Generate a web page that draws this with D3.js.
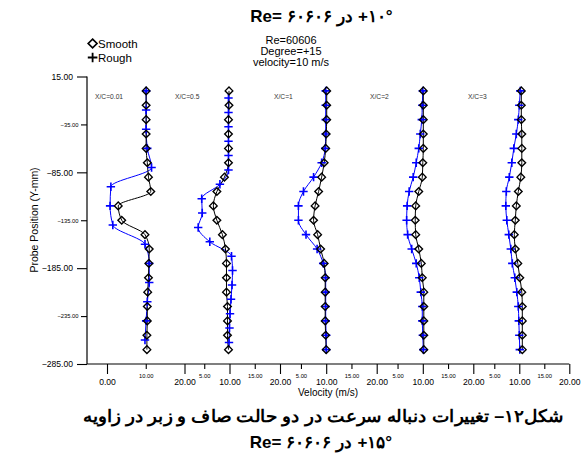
<!DOCTYPE html>
<html>
<head>
<meta charset="utf-8">
<script src="https://cdn.jsdelivr.net/npm/d3@7"></script>
<style>
  body { margin: 0; background: #fff; }
  svg { display: block; }
  text { font-family: "Liberation Sans", Arial, sans-serif; }
</style>
</head>
<body>
<svg id="chart" width="585" height="471"></svg>
<script>
// ---- data -------------------------------------------------------------
const stations = ["X/C=0.01", "X/C=0.5", "X/C=1", "X/C=2", "X/C=3"];

// probe positions (mm)
const smoothPos = [0, -15, -30, -45, -60, -75, -90, -105, -120, -135, -150, -165, -180, -195, -210, -225, -240, -255, -270];
const roughPosA = [0, -20, -40, -60, -80, -100, -120, -140, -160, -180, -200, -220, -240, -260];
const roughPosB = [-7.5, -22.5, -37.5, -52.5, -67.5, -82.5, -97.5, -112.5, -127.5, -142.5, -157.5, -172.5, -187.5, -202.5, -217.5, -232.5, -247.5, -262.5];

// velocity (m/s), smooth model
const smooth001 = [10.1, 10.1, 10.1, 10.1, 10.1, 10.4, 10.7, 11.3, 2.9, 3.8, 9.8, 10.9, 10.8, 10.7, 10.5, 10.4, 10.4, 10.3, 10.3];
const smooth05  = [9.9, 9.9, 9.8, 9.8, 9.8, 9.8, 9.0, 7.5, 6.8, 7.5, 8.6, 9.2, 9.4, 9.4, 9.4, 9.6, 9.6, 9.6, 9.8];
const smooth1   = [10.1, 10.1, 10.1, 10.0, 9.9, 9.6, 9.1, 8.5, 7.8, 7.5, 8.3, 8.9, 9.6, 9.8, 9.8, 9.8, 9.8, 9.9, 10.0];
const smooth2   = [10.1, 10.1, 10.1, 10.1, 10.1, 10.0, 9.9, 9.2, 8.6, 8.5, 8.6, 9.2, 9.7, 9.9, 10.2, 10.2, 10.2, 10.2, 10.2];
const smooth3   = [10.4, 10.4, 10.4, 10.5, 10.5, 10.5, 10.3, 9.8, 9.4, 9.2, 9.0, 9.2, 9.7, 10.1, 10.5, 10.6, 10.6, 10.6, 10.6];

// velocity (m/s), rough model
const rough001 = [10.1, 10.1, 10.1, 10.4, 11.5, 1.0, 0.8, 1.5, 9.8, 10.9, 10.9, 10.4, 10.1, 9.8];
const rough05  = [9.8, 9.8, 9.8, 9.8, 9.8, 9.8, 8.1, 4.5, 4.6, 3.8, 6.1, 10.4, 10.6, 10.5, 10.3, 10.1, 10.0, 9.9];
const rough1   = [9.9, 9.9, 9.9, 9.9, 9.8, 9.1, 7.5, 5.5, 4.5, 4.5, 6.0, 8.2, 9.4, 9.9, 9.9, 9.9, 9.9, 10.0, 10.0];
const rough2   = [10.0, 9.9, 9.8, 9.5, 9.2, 8.7, 8.1, 7.3, 6.9, 6.8, 7.0, 7.8, 8.7, 9.3, 9.6, 9.9, 9.9, 10.0, 10.1];
const rough3   = [10.2, 10.0, 9.8, 9.4, 8.9, 8.5, 8.0, 7.4, 7.3, 7.5, 7.9, 8.3, 8.6, 9.1, 9.5, 9.8, 9.9, 10.0, 10.1];

const smoothSeries = [smooth001, smooth05, smooth1, smooth2, smooth3];
const roughSeries  = [rough001, rough05, rough1, rough2, rough3];
const roughPos     = [roughPosA, roughPosB, smoothPos, smoothPos, smoothPos];

// axis ticks
const yMajorTicks = [15, -85, -185, -285];
const yMinorTicks = [-35, -135, -235];
const xMajorTicks = [[0, 20], [10, 20], [10, 20], [10, 20], [10, 20]];
const xMinorTicks = [[10], [5, 15], [5, 15], [5, 15], [5, 15]];

// headings (pieces laid out left to right)
const titleTop = ["Re= ۶۰۶۰۶", "در", "+۱۰°"];
const captionText = "شکل۱۲– تغییرات دنباله سرعت در دو حالت صاف و زبر در زاویه";
const captionSub = ["Re= ۶۰۶۰۶", "در", "+۱۵°"];

// ---- layout -----------------------------------------------------------
const plot = { left: 87, right: 569.3, top: 76.5, bottom: 364 };
const panelRange = [[107, 184.5], [179, 280], [275.7, 376.7], [372.3, 473.3], [469.3, 569.3]];
const panelLabelX = [95, 175, 274, 370, 468];

const svg = d3.select("#chart");
const y = d3.scaleLinear().domain([-285, 15]).range([plot.bottom, plot.top]);
const xs = panelRange.map(r => d3.scaleLinear().domain([0, 20]).range(r));

// ---- axes -------------------------------------------------------------
function styleAxis(g, fs) {
  g.select(".domain").remove();
  g.selectAll("line").attr("stroke", "#000").attr("stroke-width", 1.1);
  g.selectAll("text").attr("font-size", fs).attr("fill", "#000")
    .attr("font-family", "'Liberation Sans', Arial, sans-serif");
}

svg.append("g").attr("transform", `translate(${plot.left},0)`)
  .call(d3.axisLeft(y).tickValues(yMajorTicks).tickSize(10).tickPadding(4).tickFormat(d3.format(".2f")))
  .call(g => styleAxis(g, 8.6));
svg.append("g").attr("transform", `translate(${plot.left},0)`)
  .call(d3.axisLeft(y).tickValues(yMinorTicks).tickSize(6).tickPadding(2.5).tickFormat(d3.format(".2f")))
  .call(g => styleAxis(g, 5.8));

xs.forEach((x, i) => {
  svg.append("g").attr("transform", `translate(0,${plot.bottom})`)
    .call(d3.axisBottom(x).tickValues(xMajorTicks[i]).tickSize(10).tickPadding(5).tickFormat(d3.format(".2f")))
    .call(g => styleAxis(g, 8.6));
  svg.append("g").attr("transform", `translate(0,${plot.bottom})`)
    .call(d3.axisBottom(x).tickValues(xMinorTicks[i]).tickSize(5).tickPadding(4.5).tickFormat(d3.format(".2f")))
    .call(g => styleAxis(g, 5.8));
});

// axis lines
svg.append("line").attr("x1", plot.left).attr("x2", plot.left)
  .attr("y1", plot.top).attr("y2", plot.bottom)
  .attr("stroke", "#000").attr("stroke-width", 1.2);
svg.append("line").attr("x1", plot.left).attr("x2", plot.right)
  .attr("y1", plot.bottom).attr("y2", plot.bottom)
  .attr("stroke", "#000").attr("stroke-width", 1.2);

// axis titles
svg.append("text").attr("x", 328).attr("y", 396).attr("text-anchor", "middle")
  .attr("font-size", 10).text("Velocity (m/s)");
svg.append("text").attr("transform", "translate(38,220) rotate(-90)")
  .attr("text-anchor", "middle").attr("font-size", 10.5).text("Probe Position (Y-mm)");

// ---- profiles ---------------------------------------------------------
const diamond = r => `M0,${-r}L${r},0L0,${r}L${-r},0Z`;
const plus = r => `M${-r},0H${r}M0,${-r}V${r}`;

const layer = svg.append("g");
stations.forEach((name, i) => {
  const x = xs[i];
  const sPts = smoothPos.map((p, k) => [x(smoothSeries[i][k]), y(p)]);
  const rPts = roughPos[i].map((p, k) => [x(roughSeries[i][k]), y(p)]);
  const line = d3.line().curve(d3.curveMonotoneY);

  layer.append("path").attr("d", line(rPts)).attr("fill", "none")
    .attr("stroke", "#0000ff").attr("stroke-width", 1);
  layer.append("path").attr("d", line(sPts)).attr("fill", "none")
    .attr("stroke", "#000").attr("stroke-width", 1);

  layer.append("g").selectAll("path").data(rPts).join("path")
    .attr("transform", d => `translate(${d[0]},${d[1]})`)
    .attr("d", plus(4.2)).attr("stroke", "#0000ff").attr("stroke-width", 1.6).attr("fill", "none");
  layer.append("g").selectAll("path").data(sPts).join("path")
    .attr("transform", d => `translate(${d[0]},${d[1]})`)
    .attr("d", diamond(3.8)).attr("stroke", "#000").attr("stroke-width", 1.4).attr("fill", "none");

  svg.append("text").attr("x", panelLabelX[i]).attr("y", 98.5)
    .attr("font-size", 6.7).attr("fill", "#333").text(name);
});

// ---- legend -----------------------------------------------------------
svg.append("path").attr("transform", "translate(92.6,43.5)").attr("d", diamond(4.4))
  .attr("fill", "none").attr("stroke", "#000").attr("stroke-width", 1.7);
svg.append("text").attr("x", 98).attr("y", 48).attr("font-size", 11.5).text("Smooth");
svg.append("path").attr("transform", "translate(92.6,57.5)").attr("d", plus(4.8))
  .attr("fill", "none").attr("stroke", "#000").attr("stroke-width", 1.8);
svg.append("text").attr("x", 98).attr("y", 62).attr("font-size", 11.5).text("Rough");

// ---- run conditions -----------------------------------------------------
["Re=60606", "Degree=+15", "velocity=10 m/s"].forEach((t, k) => {
  svg.append("text").attr("x", 291).attr("y", 44 + k * 11).attr("text-anchor", "middle")
    .attr("font-size", 11).text(t);
});

// ---- headings -----------------------------------------------------------
// mixed Latin / Persian line: each piece is its own text, placed left to right
function mixedLine(pieces, cx, baseline, fs) {
  const g = svg.append("g");
  const gap = fs * 0.3;
  let cursor = 0;
  pieces.forEach(p => {
    const t = g.append("text").attr("x", cursor).attr("y", baseline)
      .attr("font-size", fs).attr("font-weight", "bold")
      .attr("font-family", "'Liberation Sans', 'DejaVu Sans', sans-serif")
      .text(p);
    cursor += t.node().getComputedTextLength() + gap;
  });
  const total = cursor - gap;
  g.attr("transform", `translate(${cx - total / 2},0)`);
}

mixedLine(titleTop, 321.5, 21.5, 17);
svg.append("text").attr("x", 323).attr("y", 422).attr("text-anchor", "middle")
  .attr("direction", "rtl").attr("font-size", 16.5).attr("font-weight", "bold")
  .attr("font-family", "'DejaVu Sans', sans-serif")
  .attr("textLength", 480).attr("lengthAdjust", "spacingAndGlyphs")
  .text(captionText);
mixedLine(captionSub, 321, 448, 17);
</script>
</body>
</html>
